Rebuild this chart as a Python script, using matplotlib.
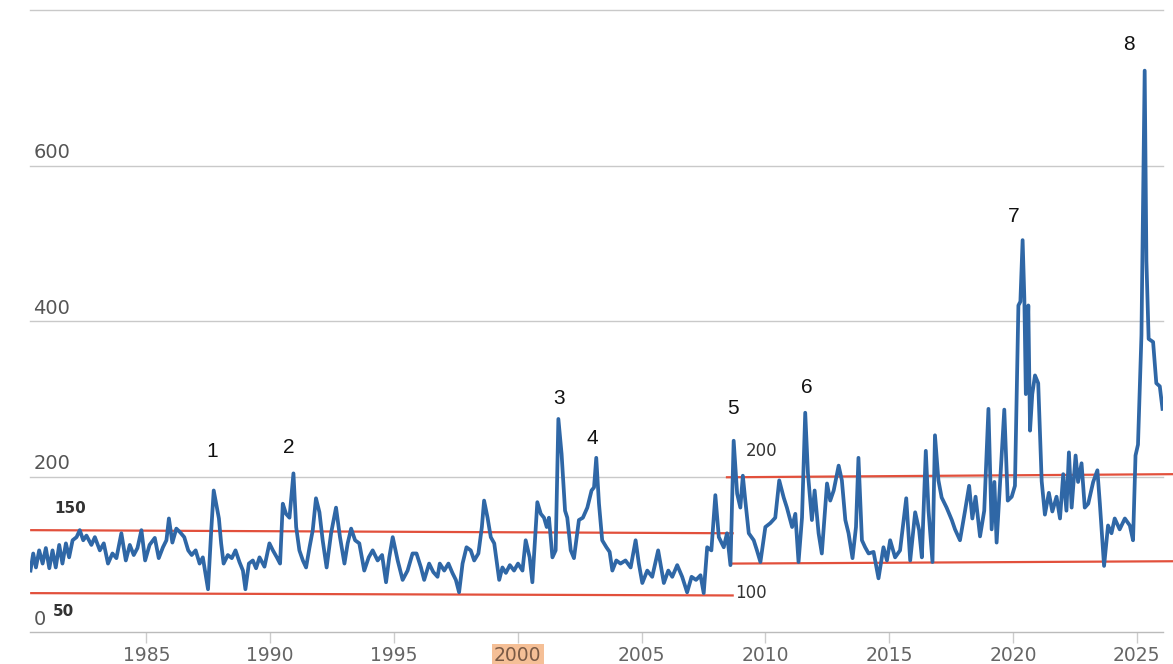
import matplotlib
matplotlib.use('Agg')

import matplotlib.pyplot as plt
import matplotlib.transforms as mtransforms

# values (decimal year, level)
years = [
    1980.32, 1980.43, 1980.54, 1980.67, 1980.81, 1980.94, 1981.08, 1981.21, 1981.34, 1981.48,
    1981.61, 1981.75, 1981.88, 1982.02, 1982.18, 1982.31, 1982.45, 1982.58, 1982.78, 1982.92,
    1983.12, 1983.28, 1983.45, 1983.63, 1983.79, 1983.99, 1984.17, 1984.33, 1984.49, 1984.64,
    1984.80, 1984.95, 1985.13, 1985.34, 1985.50, 1985.67, 1985.81, 1985.91, 1986.05, 1986.21,
    1986.37, 1986.53, 1986.69, 1986.83, 1986.99, 1987.15, 1987.28, 1987.49, 1987.62, 1987.72,
    1987.82, 1987.93, 1988.02, 1988.12, 1988.29, 1988.45, 1988.60, 1988.76, 1988.90, 1989.00,
    1989.14, 1989.30, 1989.43, 1989.57, 1989.77, 1989.97, 1990.11, 1990.27, 1990.40, 1990.51,
    1990.64, 1990.78, 1990.94, 1991.05, 1991.18, 1991.32, 1991.45, 1991.59, 1991.72, 1991.85,
    1991.99, 1992.12, 1992.28, 1992.46, 1992.66, 1992.82, 1993.00, 1993.13, 1993.27, 1993.43,
    1993.60, 1993.80, 1993.98, 1994.14, 1994.34, 1994.52, 1994.68, 1994.81, 1994.95, 1995.15,
    1995.35, 1995.55, 1995.75, 1995.91, 1996.09, 1996.22, 1996.42, 1996.59, 1996.76, 1996.85,
    1997.03, 1997.20, 1997.36, 1997.50, 1997.63, 1997.77, 1997.93, 1998.10, 1998.24, 1998.41,
    1998.55, 1998.64, 1998.78, 1998.91, 1999.05, 1999.25, 1999.38, 1999.52, 1999.68, 1999.85,
    2000.01, 2000.19, 2000.32, 2000.48, 2000.59, 2000.79, 2000.93, 2001.06, 2001.17, 2001.26,
    2001.40, 2001.53, 2001.64, 2001.77, 2001.91, 2002.00, 2002.14, 2002.27, 2002.47, 2002.63,
    2002.81, 2002.98, 2003.08, 2003.17, 2003.28, 2003.41, 2003.58, 2003.71, 2003.82, 2003.98,
    2004.15, 2004.35, 2004.56, 2004.76, 2004.89, 2005.03, 2005.23, 2005.43, 2005.67, 2005.90,
    2006.08, 2006.24, 2006.44, 2006.64, 2006.84, 2007.02, 2007.20, 2007.38, 2007.51, 2007.65,
    2007.82, 2007.98, 2008.12, 2008.32, 2008.45, 2008.59, 2008.72, 2008.86, 2008.99, 2009.09,
    2009.19, 2009.33, 2009.53, 2009.66, 2009.80, 2010.00, 2010.20, 2010.40, 2010.56, 2010.74,
    2010.87, 2011.08, 2011.21, 2011.34, 2011.48, 2011.61, 2011.72, 2011.88, 2011.99, 2012.15,
    2012.28, 2012.49, 2012.62, 2012.76, 2012.96, 2013.09, 2013.23, 2013.36, 2013.52, 2013.66,
    2013.76, 2013.90, 2014.03, 2014.17, 2014.37, 2014.57, 2014.77, 2014.91, 2015.04, 2015.24,
    2015.44, 2015.69, 2015.85, 2016.05, 2016.21, 2016.32, 2016.48, 2016.59, 2016.75, 2016.85,
    2016.99, 2017.12, 2017.32, 2017.53, 2017.66, 2017.86, 2018.06, 2018.23, 2018.36, 2018.49,
    2018.67, 2018.84, 2019.01, 2019.14, 2019.25, 2019.34, 2019.48, 2019.65, 2019.79, 2019.95,
    2020.08, 2020.15, 2020.22, 2020.30, 2020.39, 2020.46, 2020.52, 2020.62, 2020.69, 2020.78,
    2020.89, 2021.02, 2021.16, 2021.29, 2021.45, 2021.59, 2021.76, 2021.90, 2022.03, 2022.16,
    2022.26, 2022.37, 2022.53, 2022.63, 2022.77, 2022.90, 2023.04, 2023.24, 2023.41, 2023.51,
    2023.68, 2023.84, 2023.98, 2024.11, 2024.31, 2024.52, 2024.72, 2024.85, 2024.95, 2025.05,
    2025.19, 2025.32, 2025.39, 2025.48, 2025.66, 2025.79, 2025.93, 2026.04,
]
values = [
    79, 101, 83, 105, 88, 108, 82, 105, 83, 112,
    88, 114, 96, 118, 122, 131, 118, 124, 112, 122,
    105, 114, 88, 101, 95, 127, 92, 112, 99, 108,
    131, 92, 112, 121, 95, 109, 118, 146, 115, 133,
    128, 122, 105, 99, 105, 88, 96, 55, 131, 182,
    165, 146, 114, 88, 99, 95, 105, 90, 79, 55,
    88, 92, 82, 96, 84, 114, 105, 96, 88, 165,
    152, 147, 204, 135, 105, 92, 83, 109, 131, 172,
    154, 118, 83, 127, 160, 122, 88, 114, 133, 118,
    114, 79, 96, 105, 92, 99, 64, 96, 122, 92,
    67, 79, 101, 101, 83, 67, 88, 77, 71, 88,
    79, 88, 76, 67, 51, 88, 109, 105, 92, 101,
    135, 169, 147, 122, 114, 67, 83, 76, 86, 79,
    88, 79, 118, 96, 64, 167, 152, 147, 135, 147,
    96, 105, 274, 229, 156, 147, 105, 95, 144, 147,
    160, 182, 186, 224, 165, 118, 109, 103, 79, 92,
    88, 92, 83, 118, 88, 63, 79, 71, 105, 63,
    79, 71, 86, 71, 51, 71, 67, 73, 50, 109,
    105, 176, 122, 109, 127, 86, 246, 178, 160, 201,
    169, 127, 118, 105, 90, 135, 140, 147, 195, 173,
    160, 135, 152, 90, 147, 282, 204, 144, 182, 127,
    101, 191, 169, 182, 214, 195, 144, 127, 95, 135,
    224, 118, 109, 101, 103, 69, 109, 92, 118, 96,
    105, 172, 92, 154, 131, 96, 233, 156, 90, 253,
    195, 173, 160, 144, 132, 118, 155, 188, 146, 174,
    123, 156, 287, 132, 193, 115, 193, 286, 169, 174,
    188, 306, 420, 425, 504, 429, 306, 420, 259, 306,
    330, 320, 194, 151, 179, 155, 174, 146, 203, 156,
    231, 160, 227, 193, 217, 160, 165, 193, 208, 165,
    85, 137, 127, 146, 132, 146, 137, 118, 227, 241,
    382, 722, 477, 377, 373, 320, 316, 287,
]

# red channel lines: (start year, end year, start level, end level)
channel_left = [(1980.35, 2008.68, 131, 127), (1980.35, 2008.68, 50, 47)]
channel_right = [(2008.45, 2026.45, 199, 203), (2008.65, 2026.45, 88, 91)]

# numbered spikes
peak_labels = ['1', '2', '3', '4', '5', '6', '7', '8']
peak_x = [1987.66, 1990.77, 2001.65, 2003.02, 2008.71, 2011.69, 2020.04, 2024.68]
peak_y = [232, 237, 300, 249, 288, 314, 535, 755]

# level notes next to the channel lines
level_text = ['150', '50', '200', '100']
level_x = [1981.94, 1981.65, 2009.84, 2009.40]
level_y = [159, 27, 233, 50]
level_bold = [True, True, False, False]

ytick_vals = [0, 200, 400, 600]
xtick_years = list(range(1985, 2030, 5))

blue = '#2f67a6'
red = '#e2503c'

fig = plt.figure(figsize=(11.73, 6.64), dpi=100)
fig.patch.set_facecolor('white')
ax = fig.add_axes([30 / 1173, 32 / 664, 1133 / 1173, 622 / 664])
ax.set_xlim(1980.3, 2026.06)
ax.set_ylim(0, 800)

for s in ['left', 'right', 'top']:
    ax.spines[s].set_visible(False)
ax.spines['bottom'].set_color('#bbbbbb')
ax.spines['bottom'].set_linewidth(1.0)

# horizontal grid
for g in [200, 400, 600, 800]:
    ax.axhline(g, color='#c9c9c9', lw=1.0, zorder=0, clip_on=False)

ax.set_yticks([])
trans = mtransforms.blended_transform_factory(ax.transAxes, ax.transData)
for v in ytick_vals:
    ax.text(0.003, v + 4, str(v), transform=trans, ha='left', va='bottom',
            fontsize=14, color='#555555')

ax.set_xticks(xtick_years)
xlabels = ax.set_xticklabels([str(y) for y in xtick_years])
ax.tick_params(axis='x', length=8, width=1, color='#cccccc', labelsize=13.5,
               labelcolor='#666666', pad=2)
for lab in xlabels:
    if lab.get_text() == '2000':
        lab.set_bbox(dict(facecolor='#f5bf96', edgecolor='none', pad=1.5))
        lab.set_color('#7a5a45')

# red channels
for x0, x1, y0, y1 in channel_left + channel_right:
    ax.plot([x0, x1], [y0, y1], color=red, lw=1.6, zorder=2, clip_on=False)

# the series
ax.plot(years, values, color=blue, lw=2.7, zorder=3, solid_joinstyle='round')

for lab, x, y in zip(peak_labels, peak_x, peak_y):
    ax.text(x, y, lab, ha='center', va='center', fontsize=15, color='#111111',
            family=['Liberation Sans', 'DejaVu Sans'])

for lab, x, y, b in zip(level_text, level_x, level_y, level_bold):
    ax.text(x, y, lab, ha='center', va='center', fontsize=11 if b else 12,
            fontweight='bold' if b else 'normal', color='#333333')

fig.savefig('out.png', dpi=100)
